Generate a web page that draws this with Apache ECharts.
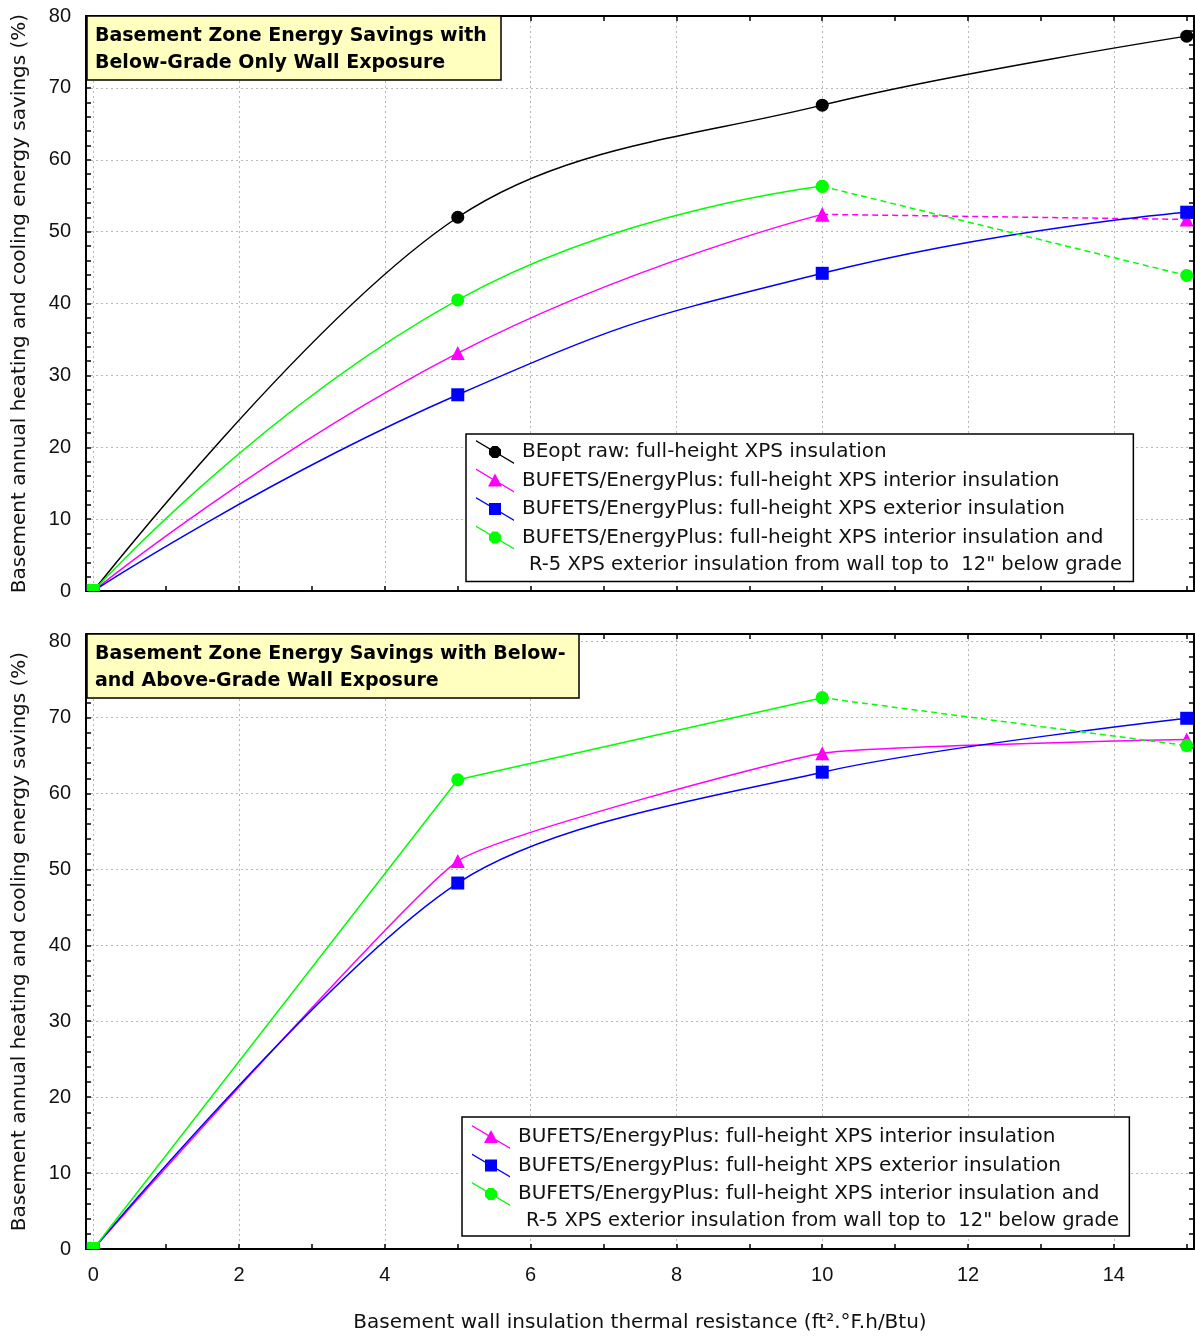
<!DOCTYPE html>
<html><head><meta charset="utf-8">
<script src="https://cdn.jsdelivr.net/npm/echarts@6/dist/echarts.min.js"></script>
<style>html,body{margin:0;padding:0;background:#fff}#c{width:1195px;height:1336px}</style>
</head><body><div id="c"></div>
<script>
// ---------- data ----------
const X_VALUES = [0, 5, 10, 15];
const X_TICKS = [0,1,2,3,4,5,6,7,8,9,10,11,12,13,14,15];
const X_LABELS = [0,2,4,6,8,10,12,14];
const X_GRIDLINES = [0,2,4,6,8,10,12,14];
const Y_TICKS = [0,2,4,6,8,10,12,14,16,18,20,22,24,26,28,30,32,34,36,38,40,42,44,46,48,50,52,54,56,58,60,62,64,66,68,70,72,74,76,78,80];
const Y_LABELS = [0,10,20,30,40,50,60,70,80];

const BEOPT_TOP = [0, 52.0, 67.6, 77.2];
const INT_TOP   = [0, 33.1, 52.4, 51.7];
const EXT_TOP   = [0, 27.3, 44.2, 52.7];
const COMBO_TOP = [0, 40.5, 56.3, 43.9];

const INT_BOT   = [0, 51.1, 65.3, 67.1];
const EXT_BOT   = [0, 48.2, 62.8, 69.9];
const COMBO_BOT = [0, 61.8, 72.6, 66.3];

const NAME_BEOPT = 'BEopt raw: full-height XPS insulation';
const NAME_INT = 'BUFETS/EnergyPlus: full-height XPS interior insulation';
const NAME_EXT = 'BUFETS/EnergyPlus: full-height XPS exterior insulation';
const NAME_COMBO = 'BUFETS/EnergyPlus: full-height XPS interior insulation and';
const COMBO_LINE2 = 'R-5 XPS exterior insulation from wall top to  12" below grade';
const TITLE_TOP = 'Basement Zone Energy Savings with\nBelow-Grade Only Wall Exposure';
const TITLE_BOT = 'Basement Zone Energy Savings with Below-\nand Above-Grade Wall Exposure';
const Y_NAME = 'Basement annual heating and cooling energy savings (%)';
const X_NAME = 'Basement wall insulation thermal resistance (ft\u00B2.\u00B0F.h/Btu)';

// ---------- styling / layout ----------
const FONT = 'DejaVu Sans';
const LABEL_FONT = 'Liberation Sans';
const GRIDS = [
  {left: 86, top: 16, width: 1108, height: 575},
  {left: 86, top: 634, width: 1108, height: 615}
];
const X_MIN = -0.1, X_MAX = 15.1;
const Y_MAXES = [80, 81];
const BLACK = '#000000', PINK = '#ff00ff', BLUE = '#0000ff', GREEN = '#00ff00';

const ICON_LINE = 'M0,0 L38,22.4 L38,24 L0,1.6 Z ';
const ICON_CIRCLE = 'path://' + ICON_LINE + 'M25,14.5 L21.5,18 L16.5,18 L13,14.5 L13,9.5 L16.5,6 L21.5,6 L25,9.5 Z';
const ICON_TRI = 'path://' + ICON_LINE + 'M19,5 L26,18 L12,18 Z';
const ICON_SQ = 'path://' + ICON_LINE + 'M13,6 L25,6 L25,18 L13,18 Z';

const axisLineStyle = {color: '#000', width: 2};
const splitStyle = {color: '#b8b8b8', width: 1, type: [2, 3]};
const tickStyle = {color: '#000', width: 1.5};

const xAxes = [], yAxes = [];
GRIDS.forEach((g, gi) => {
  const isBottom = gi === 1;
  xAxes.push({
    type: 'value', gridIndex: gi, position: 'bottom', min: X_MIN, max: X_MAX,
    axisLine: {show: true, onZero: false, lineStyle: axisLineStyle},
    axisTick: {show: true, inside: true, length: 5, customValues: X_TICKS, lineStyle: tickStyle},
    axisLabel: {show: isBottom, customValues: X_LABELS, margin: 16, fontSize: 20, fontFamily: LABEL_FONT, color: '#111'},
    splitLine: {show: false},
    name: isBottom ? X_NAME : '', nameLocation: 'middle', nameGap: 64,
    nameTextStyle: {fontFamily: FONT, fontSize: 20, color: '#111'}
  });
  xAxes.push({
    type: 'value', gridIndex: gi, position: 'top', min: X_MIN, max: X_MAX,
    axisLine: {show: true, onZero: false, lineStyle: axisLineStyle},
    axisTick: {show: true, inside: true, length: 5, customValues: X_TICKS, lineStyle: tickStyle},
    axisLabel: {show: false}, splitLine: {show: false}
  });
  xAxes.push({
    type: 'value', gridIndex: gi, position: 'bottom', min: X_MIN, max: X_MAX,
    axisLine: {show: false}, axisTick: {show: false, customValues: X_GRIDLINES},
    axisLabel: {show: false}, splitLine: {show: true, lineStyle: splitStyle}
  });
  const ymax = Y_MAXES[gi];
  yAxes.push({
    type: 'value', gridIndex: gi, position: 'left', min: 0, max: ymax,
    axisLine: {show: true, onZero: false, lineStyle: axisLineStyle},
    axisTick: {show: true, inside: true, length: 5, customValues: Y_TICKS, lineStyle: tickStyle},
    axisLabel: {show: true, customValues: Y_LABELS, margin: 15, fontSize: 20, fontFamily: LABEL_FONT, color: '#111'},
    splitLine: {show: false},
    name: Y_NAME, nameLocation: 'middle', nameGap: 56,
    nameTextStyle: {fontFamily: FONT, fontSize: 20, color: '#111'}
  });
  yAxes.push({
    type: 'value', gridIndex: gi, position: 'right', min: 0, max: ymax,
    axisLine: {show: true, onZero: false, lineStyle: axisLineStyle},
    axisTick: {show: true, inside: true, length: 5, customValues: Y_TICKS, lineStyle: tickStyle},
    axisLabel: {show: false}, splitLine: {show: false}
  });
  yAxes.push({
    type: 'value', gridIndex: gi, position: 'left', min: 0, max: ymax,
    axisLine: {show: false, onZero: false}, axisTick: {show: false, customValues: Y_LABELS},
    axisLabel: {show: false}, splitLine: {show: true, lineStyle: splitStyle}
  });
});

function pts(ys, from, to) {
  const out = [];
  for (let i = from; i < to; i++) {
    if (X_VALUES[i] === 0 && ys[i] === 0) {
      out.push({value: [X_VALUES[i], ys[i]], symbol: 'rect', symbolSize: [13, 7], symbolOffset: [0, -3.5]});
    } else {
      out.push([X_VALUES[i], ys[i]]);
    }
  }
  return out;
}
const SYM = {circle: {symbol: 'circle', size: 13}, tri: {symbol: 'triangle', size: 14}, sq: {symbol: 'rect', size: 13}};
function line(gi, name, color, sym, data, smooth, dashed) {
  return {
    type: 'line', name: name, data: data, xAxisIndex: gi * 3, yAxisIndex: gi * 3,
    symbol: sym.symbol, symbolSize: sym.size, showSymbol: true, smooth: smooth,
    itemStyle: {color: color, borderWidth: 0},
    lineStyle: {color: color, width: 1.5, type: dashed ? [6, 4] : 'solid'},
    emphasis: {disabled: true}, animation: false, z: 3
  };
}
const series = [
  line(0, NAME_BEOPT, BLACK, SYM.circle, pts(BEOPT_TOP, 0, 4), 0.35, false),
  line(0, NAME_INT, PINK, SYM.tri, pts(INT_TOP, 0, 3), 0.5, false),
  line(0, NAME_INT, PINK, SYM.tri, pts(INT_TOP, 2, 4), false, true),
  line(0, NAME_EXT, BLUE, SYM.sq, pts(EXT_TOP, 0, 4), 0.5, false),
  line(0, NAME_COMBO, GREEN, SYM.circle, pts(COMBO_TOP, 0, 3), 0.5, false),
  line(0, NAME_COMBO, GREEN, SYM.circle, pts(COMBO_TOP, 2, 4), false, true),
  line(1, NAME_INT, PINK, SYM.tri, pts(INT_BOT, 0, 4), 0.12, false),
  line(1, NAME_EXT, BLUE, SYM.sq, pts(EXT_BOT, 0, 4), 0.3, false),
  line(1, NAME_COMBO, GREEN, SYM.circle, pts(COMBO_BOT, 0, 3), false, false),
  line(1, NAME_COMBO, GREEN, SYM.circle, pts(COMBO_BOT, 2, 4), false, true)
];

const legendBase = {
  orient: 'vertical', selectedMode: false, itemWidth: 44, itemHeight: 24, itemGap: 4.5,
  itemStyle: {borderWidth: 0}, symbolKeepAspect: true,
  backgroundColor: '#fff', borderColor: '#000', borderWidth: 1.5, borderRadius: 0,
  textStyle: {fontFamily: FONT, fontSize: 20, color: '#111', lineHeight: 24},
  z: 10
};
const legends = [
  Object.assign({}, legendBase, {
    left: 466, top: 434, padding: [6, 30, 32, 10],
    data: [
      {name: NAME_BEOPT, icon: ICON_CIRCLE},
      {name: NAME_INT, icon: ICON_TRI},
      {name: NAME_EXT, icon: ICON_SQ},
      {name: NAME_COMBO, icon: ICON_CIRCLE}
    ]
  }),
  Object.assign({}, legendBase, {
    left: 462, top: 1117, padding: [8, 30, 30, 10],
    data: [
      {name: NAME_INT, icon: ICON_TRI},
      {name: NAME_EXT, icon: ICON_SQ},
      {name: NAME_COMBO, icon: ICON_CIRCLE}
    ]
  })
];

const titleBase = {
  backgroundColor: '#ffffc0', borderColor: '#000', borderWidth: 1.5, padding: [7, 14, 3, 8],
  textStyle: {fontFamily: FONT, fontWeight: 'bold', fontSize: 19, lineHeight: 27, color: '#000'},
  z: 12
};
const titles = [
  Object.assign({}, titleBase, {text: TITLE_TOP, left: 87, top: 16}),
  Object.assign({}, titleBase, {text: TITLE_BOT, left: 87, top: 634})
];

const option = {
  backgroundColor: '#ffffff',
  animation: false,
  title: titles,
  legend: legends,
  grid: GRIDS.map(g => Object.assign({containLabel: false, outerBoundsMode: 'none'}, g)),
  xAxis: xAxes,
  yAxis: yAxes,
  graphic: [
    {type: 'text', x: 529, y: 565, z: 20, style: {text: COMBO_LINE2, font: '19.5px "DejaVu Sans"', fill: '#111', verticalAlign: 'middle'}},
    {type: 'text', x: 526, y: 1221, z: 20, style: {text: COMBO_LINE2, font: '19.5px "DejaVu Sans"', fill: '#111', verticalAlign: 'middle'}}
  ],
  series: series
};
const chart = echarts.init(document.getElementById('c'));
chart.setOption(option);
</script>
</body></html>
